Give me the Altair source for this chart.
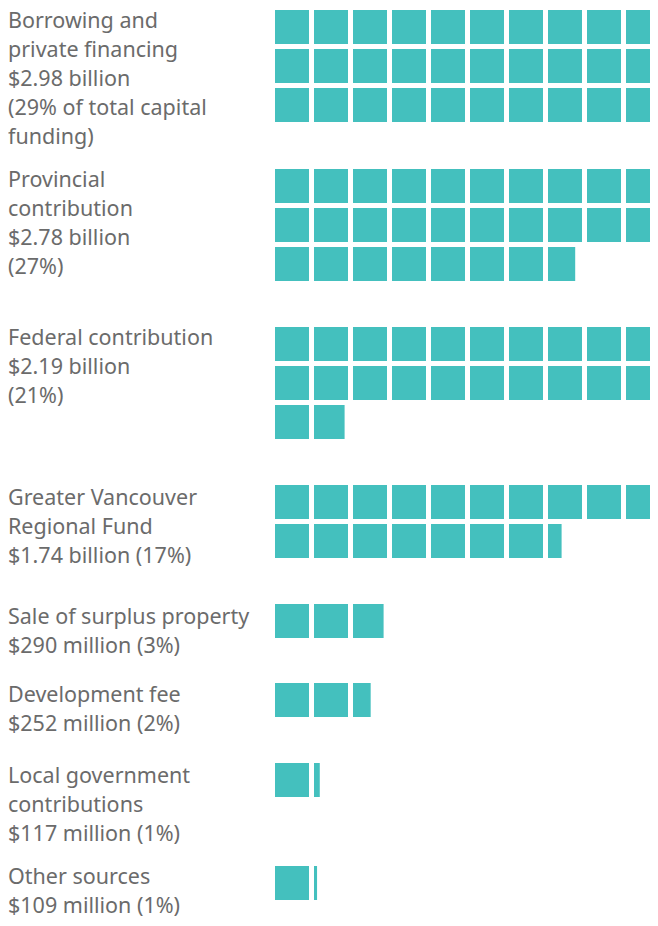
import math
import altair as alt
import pandas as pd

# ---- data ----
labels = [
    ["Borrowing and", "private financing", "$2.98 billion", "(29% of total capital", "funding)"],
    ["Provincial", "contribution", "$2.78 billion", "(27%)"],
    ["Federal contribution", "$2.19 billion", "(21%)"],
    ["Greater Vancouver", "Regional Fund", "$1.74 billion (17%)"],
    ["Sale of surplus property", "$290 million (3%)"],
    ["Development fee", "$252 million (2%)"],
    ["Local government", "contributions", "$117 million (1%)"],
    ["Other sources", "$109 million (1%)"],
]
amounts_million = [2980, 2780, 2190, 1740, 290, 252, 117, 109]
unit_million = 100  # one square = $100 million

# ---- layout (chart pixel coordinates; page = chart + 8) ----
W, H = 642, 910
group_tops = [2, 161, 319, 477, 596, 675, 755, 858]
label_baselines = [20, 179, 337, 497, 616, 694, 775, 876]
x0 = 267
size = 34
pitch = 39
per_row = 10
teal = "#44C0BE"
grey = "#6b6b6b"

cells = []
for g, amt in enumerate(amounts_million):
    n = amt / unit_million
    full = math.floor(n)
    frac = n - full
    count = full + (1 if frac > 1e-9 else 0)
    for k in range(count):
        r, c = divmod(k, per_row)
        w = 1.0 if k < full else frac
        x = x0 + c * pitch
        y = group_tops[g] + r * pitch
        cells.append({"x": x, "x2": x + w * size, "y": y, "y2": y + size})
cells_df = pd.DataFrame(cells)

text_df = pd.DataFrame({
    "label": labels,
    "x": [0] * len(labels),
    "y": label_baselines,
})

xs = alt.Scale(domain=[0, W], range=[0, W], nice=False, zero=False)
ys = alt.Scale(domain=[0, H], range=[0, H], nice=False, zero=False)

rects = alt.Chart(cells_df).mark_rect(color=teal).encode(
    x=alt.X("x:Q", scale=xs, axis=None),
    x2="x2:Q",
    y=alt.Y("y:Q", scale=ys, axis=None),
    y2="y2:Q",
)

texts = alt.Chart(text_df).mark_text(
    align="left", baseline="alphabetic", font="Noto Sans", fontSize=21.5,
    lineHeight=29, color=grey,
).encode(
    x=alt.X("x:Q", scale=xs, axis=None),
    y=alt.Y("y:Q", scale=ys, axis=None),
    text="label",
)

chart = alt.layer(rects, texts).properties(
    width=W, height=H, padding=0, autosize="none"
).configure_view(stroke=None)

chart.save("out.html", embed_options={"renderer": "svg", "actions": False})
